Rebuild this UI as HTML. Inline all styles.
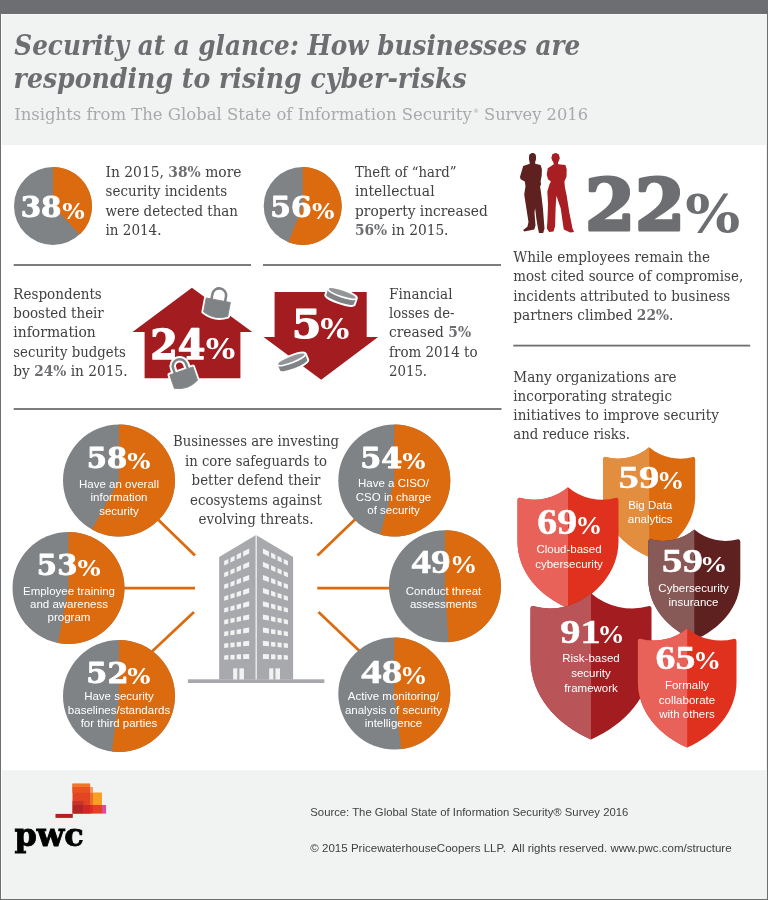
<!DOCTYPE html>
<html lang="en"><head><meta charset="utf-8"><title>Security at a glance</title>
<style>
html,body{margin:0;padding:0;background:#fff}
body{width:768px;height:900px;overflow:hidden}
svg{display:block}
.serif{font-family:'DejaVu Serif','Liberation Serif',serif}
.sans{font-family:'Liberation Sans','DejaVu Sans',sans-serif}
.lserif{font-family:'Liberation Serif','DejaVu Serif',serif}
text{white-space:pre}
</style></head><body>
<svg width="768" height="900" viewBox="0 0 768 900">
<rect width="768" height="900" fill="#6d6e71"/>
<rect x="1" y="14" width="765.9" height="884.9" fill="#fff"/>
<rect x="2" y="14.6" width="764" height="130.4" fill="#f1f2f2"/>
<rect x="2" y="770.2" width="764" height="127.7" fill="#f1f2f2"/>
<text x="14.3" y="54.5" font-size="27.5" fill="#6d6e71" font-weight="bold" font-style="italic" textLength="566.0" lengthAdjust="spacingAndGlyphs" class="serif">Security at a glance: How businesses are</text>
<text x="13.6" y="87.5" font-size="27.5" fill="#6d6e71" font-weight="bold" font-style="italic" textLength="453.0" lengthAdjust="spacingAndGlyphs" class="serif">responding to rising cyber-risks</text>
<text x="14.2" y="120" font-size="17.1" fill="#a7a9ac" class="serif"><tspan textLength="457.5" lengthAdjust="spacingAndGlyphs">Insights from The Global State of Information Security</tspan><tspan x="473" dy="-7" font-size="6">®</tspan><tspan x="484" dy="7" textLength="104" lengthAdjust="spacingAndGlyphs">Survey 2016</tspan></text>
<rect x="13.7" y="264.1" width="237.3" height="1.8" fill="#6d6e71"/>
<rect x="263" y="264.1" width="238" height="1.8" fill="#6d6e71"/>
<rect x="13.7" y="408.1" width="487.8" height="1.8" fill="#6d6e71"/>
<rect x="513.3" y="344.70000000000005" width="236.9000000000001" height="1.8" fill="#6d6e71"/>
<circle cx="53" cy="206" r="39" fill="#7f8386"/>
<path d="M53 206L53 167A39 39 0 0 1 79.70 234.43Z" fill="#dc6b0f"/>
<text fill="#fff" stroke="#fff" stroke-linejoin="round" font-weight="bold"><tspan class="serif" x="20.69" y="217.46" font-size="27.92" stroke-width="0.88" textLength="40.84" lengthAdjust="spacingAndGlyphs">38</tspan><tspan class="serif" x="62.18" y="218.50" font-size="21.42" stroke="none" textLength="22.49" lengthAdjust="spacingAndGlyphs">%</tspan></text>
<circle cx="302.7" cy="206" r="39" fill="#7f8386"/>
<path d="M302.7 206L302.7 167A39 39 0 1 1 288.34 242.26Z" fill="#dc6b0f"/>
<text fill="#fff" stroke="#fff" stroke-linejoin="round" font-weight="bold"><tspan class="serif" x="270.31" y="217.46" font-size="27.92" stroke-width="0.88" textLength="41.24" lengthAdjust="spacingAndGlyphs">56</tspan><tspan class="serif" x="312.14" y="218.50" font-size="21.42" stroke="none" textLength="22.44" lengthAdjust="spacingAndGlyphs">%</tspan></text>
<text x="105.5" y="176.5" font-size="14.8" fill="#414042" textLength="136.0" lengthAdjust="spacingAndGlyphs" class="serif">In 2015, <tspan font-weight="bold" fill="#6d6e71">38%</tspan> more</text>
<text x="105.5" y="196" font-size="14.8" fill="#414042" textLength="121.7" lengthAdjust="spacingAndGlyphs" class="serif">security incidents</text>
<text x="105.5" y="215.6" font-size="14.8" fill="#414042" textLength="132.5" lengthAdjust="spacingAndGlyphs" class="serif">were detected than</text>
<text x="105.5" y="235.2" font-size="14.8" fill="#414042" textLength="56.0" lengthAdjust="spacingAndGlyphs" class="serif">in 2014.</text>
<text x="355" y="176.5" font-size="14.8" fill="#414042" textLength="101.5" lengthAdjust="spacingAndGlyphs" class="serif">Theft of “hard”</text>
<text x="355" y="196" font-size="14.8" fill="#414042" textLength="79.6" lengthAdjust="spacingAndGlyphs" class="serif">intellectual</text>
<text x="355" y="215.6" font-size="14.8" fill="#414042" textLength="132.7" lengthAdjust="spacingAndGlyphs" class="serif">property increased</text>
<text x="355" y="235.2" font-size="14.8" fill="#414042" textLength="93.5" lengthAdjust="spacingAndGlyphs" class="serif"><tspan font-weight="bold" fill="#6d6e71">56%</tspan> in 2015.</text>
<text x="13.3" y="298.7" font-size="14.8" fill="#414042" textLength="88.5" lengthAdjust="spacingAndGlyphs" class="serif">Respondents</text>
<text x="13.3" y="318" font-size="14.8" fill="#414042" textLength="90.5" lengthAdjust="spacingAndGlyphs" class="serif">boosted their</text>
<text x="13.3" y="337.4" font-size="14.8" fill="#414042" textLength="82.5" lengthAdjust="spacingAndGlyphs" class="serif">information</text>
<text x="13.3" y="356.8" font-size="14.8" fill="#414042" textLength="112.5" lengthAdjust="spacingAndGlyphs" class="serif">security budgets</text>
<text x="13.3" y="376.2" font-size="14.8" fill="#414042" textLength="114.2" lengthAdjust="spacingAndGlyphs" class="serif">by <tspan font-weight="bold" fill="#6d6e71">24%</tspan> in 2015.</text>
<text x="389" y="298.7" font-size="14.8" fill="#414042" textLength="63.5" lengthAdjust="spacingAndGlyphs" class="serif">Financial</text>
<text x="389" y="318" font-size="14.8" fill="#414042" textLength="65.5" lengthAdjust="spacingAndGlyphs" class="serif">losses de-</text>
<text x="389" y="337.4" font-size="14.8" fill="#414042" textLength="82.1" lengthAdjust="spacingAndGlyphs" class="serif">creased <tspan font-weight="bold" fill="#6d6e71">5%</tspan></text>
<text x="389" y="356.8" font-size="14.8" fill="#414042" textLength="88.5" lengthAdjust="spacingAndGlyphs" class="serif">from 2014 to</text>
<text x="389" y="376.2" font-size="14.8" fill="#414042" textLength="38.1" lengthAdjust="spacingAndGlyphs" class="serif">2015.</text>
<text x="513.3" y="262.2" font-size="14.8" fill="#414042" textLength="196.7" lengthAdjust="spacingAndGlyphs" class="serif">While employees remain the</text>
<text x="513.3" y="281.4" font-size="14.8" fill="#414042" textLength="229.9" lengthAdjust="spacingAndGlyphs" class="serif">most cited source of compromise,</text>
<text x="513.3" y="300.6" font-size="14.8" fill="#414042" textLength="217.0" lengthAdjust="spacingAndGlyphs" class="serif">incidents attributed to business</text>
<text x="513.3" y="319.8" font-size="14.8" fill="#414042" textLength="160.1" lengthAdjust="spacingAndGlyphs" class="serif">partners climbed <tspan font-weight="bold" fill="#6d6e71">22%</tspan>.</text>
<text x="513.3" y="381.9" font-size="14.8" fill="#414042" textLength="163.3" lengthAdjust="spacingAndGlyphs" class="serif">Many organizations are</text>
<text x="513.3" y="401" font-size="14.8" fill="#414042" textLength="158.7" lengthAdjust="spacingAndGlyphs" class="serif">incorporating strategic</text>
<text x="513.3" y="420.2" font-size="14.8" fill="#414042" textLength="205.5" lengthAdjust="spacingAndGlyphs" class="serif">initiatives to improve security</text>
<text x="513.3" y="439.4" font-size="14.8" fill="#414042" textLength="116.7" lengthAdjust="spacingAndGlyphs" class="serif">and reduce risks.</text>
<text x="256" y="446.2" font-size="14.8" fill="#414042" text-anchor="middle" textLength="166.0" lengthAdjust="spacingAndGlyphs" class="serif">Businesses are investing</text>
<text x="256" y="465.7" font-size="14.8" fill="#414042" text-anchor="middle" textLength="142.0" lengthAdjust="spacingAndGlyphs" class="serif">in core safeguards to</text>
<text x="256" y="485" font-size="14.8" fill="#414042" text-anchor="middle" textLength="128.8" lengthAdjust="spacingAndGlyphs" class="serif">better defend their</text>
<text x="256" y="504.5" font-size="14.8" fill="#414042" text-anchor="middle" textLength="132.0" lengthAdjust="spacingAndGlyphs" class="serif">ecosystems against</text>
<text x="256" y="523.8" font-size="14.8" fill="#414042" text-anchor="middle" textLength="115.0" lengthAdjust="spacingAndGlyphs" class="serif">evolving threats.</text>
<path d="M191.9 287.7L252.3 331.9H240.4V378.3H144.6V331.9H132.5Z" fill="#a21c20"/>
<text fill="#fff" stroke="#fff" stroke-linejoin="round" font-weight="bold"><tspan class="serif" x="150.19" y="358.86" font-size="41.65" stroke-width="1.29" textLength="55.30" lengthAdjust="spacingAndGlyphs">24</tspan><tspan class="serif" x="205.86" y="359.10" font-size="28.42" stroke="none" textLength="29.50" lengthAdjust="spacingAndGlyphs">%</tspan></text>
<path d="M274.6 291.9H366.7V337.1H378.1L321.2 379.8L263.5 337.1H274.6Z" fill="#a21c20"/>
<text fill="#fff" stroke="#fff" stroke-linejoin="round" font-weight="bold"><tspan class="serif" x="291.70" y="337.77" font-size="38.23" stroke-width="1.18" textLength="29.63" lengthAdjust="spacingAndGlyphs">5</tspan><tspan class="serif" x="320.17" y="338.70" font-size="28.03" stroke="none" textLength="29.08" lengthAdjust="spacingAndGlyphs">%</tspan></text>
<g transform="translate(218.3 300.2) rotate(10.7)"><path d="M-6.9 1V-5A6.9 6.9 0 0 1 6.9 -5V1" fill="none" stroke="#fff" stroke-width="6.6"/><path d="M-12.3 0H12.3L12.3 14.2Q0 20.6 -12.3 14.2Z" fill="#fff" stroke="#fff" stroke-width="4.4" stroke-linejoin="round"/><path d="M-6.9 1V-5A6.9 6.9 0 0 1 6.9 -5V1" fill="none" stroke="#7f8386" stroke-width="2.5"/><path d="M-12.3 0H12.3L12.3 14.2Q0 20.6 -12.3 14.2Z" fill="#7f8386" stroke="#7f8386" stroke-width="0.8" stroke-linejoin="round"/></g>
<g transform="translate(181.3 370.9) rotate(-19.1)"><path d="M-6.9 1V-5A6.9 6.9 0 0 1 6.9 -5V1" fill="none" stroke="#fff" stroke-width="6.6"/><path d="M-12.3 0H12.3L12.3 14.2Q0 20.6 -12.3 14.2Z" fill="#fff" stroke="#fff" stroke-width="4.4" stroke-linejoin="round"/><path d="M-6.9 1V-5A6.9 6.9 0 0 1 6.9 -5V1" fill="none" stroke="#7f8386" stroke-width="2.5"/><path d="M-12.3 0H12.3L12.3 14.2Q0 20.6 -12.3 14.2Z" fill="#7f8386" stroke="#7f8386" stroke-width="0.8" stroke-linejoin="round"/></g>
<g transform="translate(342.1 293.5) rotate(18.8)"><path d="M-14.6 0A14.6 2.9 0 0 1 14.6 0L14.6 6.3A14.6 2.9 0 0 1 -14.6 6.3Z" fill="#fff" stroke="#fff" stroke-width="3.8" stroke-linejoin="round"/><path d="M-14.6 1.3A14.6 2.9 0 0 0 14.6 1.3L14.6 6.3A14.6 2.9 0 0 1 -14.6 6.3Z" fill="#7f8386"/><ellipse cx="0" cy="-0.2" rx="14.2" ry="2.7" fill="#939598"/></g>
<g transform="translate(291.4 359.4) rotate(-21.3)"><path d="M-14.6 0A14.6 2.9 0 0 1 14.6 0L14.6 6.3A14.6 2.9 0 0 1 -14.6 6.3Z" fill="#fff" stroke="#fff" stroke-width="3.8" stroke-linejoin="round"/><path d="M-14.6 1.3A14.6 2.9 0 0 0 14.6 1.3L14.6 6.3A14.6 2.9 0 0 1 -14.6 6.3Z" fill="#7f8386"/><ellipse cx="0" cy="-0.2" rx="14.2" ry="2.7" fill="#939598"/></g>
<polygon points="532.4,152.9 535.3,154.0 536.1,157.7 535.1,162.4 535.3,163.8 540.6,165.1 541.9,169.3 541.7,175.6 540.6,181.4 541.1,184.3 540.1,186.4 541.3,194.6 542.9,208.3 544.5,228.4 543.2,233.1 539.0,233.1 538.0,228.4 536.4,218.9 535.1,208.3 534.5,212.5 535.5,225.2 534.3,229.4 524.2,231.5 523.2,230.0 527.4,226.8 528.5,222.0 526.7,210.4 524.2,194.6 525.5,186.2 524.8,181.4 520.6,179.3 520.0,176.7 523.2,166.1 529.8,163.8 529.0,158.7 529.5,154.5" fill="#5f2120"/><ellipse cx="532.5" cy="157.8" rx="3.5" ry="4.8" fill="#5f2120"/>
<polygon points="555.4,153.2 558.5,154.3 559.6,158.2 558.0,162.4 558.2,164.2 565.4,165.1 566.7,169.3 566.5,176.7 564.4,181.4 564.9,187.2 566.7,195.7 569.3,212.5 572.5,228.4 574.1,232.1 570.2,232.6 563.8,229.4 562.8,223.1 560.7,208.3 556.4,195.7 555.6,208.3 555.1,226.3 553.5,231.5 549.1,232.1 546.9,228.4 547.5,218.9 548.0,204.1 547.3,191.4 549.6,184.1 550.9,181.4 548.0,179.3 546.7,174.6 547.8,168.2 553.8,164.2 553.3,161.9 551.5,158.2 552.2,154.5" fill="#a81e22"/><ellipse cx="555.6" cy="157.9" rx="3.9" ry="4.7" fill="#a81e22"/>
<text fill="#6d6e71" stroke="#6d6e71" stroke-linejoin="round" font-weight="bold"><tspan class="serif" x="584.91" y="230.07" font-size="70.79" stroke-width="3.06" textLength="100.23" lengthAdjust="spacingAndGlyphs">22</tspan><tspan class="serif" x="685.32" y="231.56" font-size="52.35" stroke="none" textLength="55.00" lengthAdjust="spacingAndGlyphs">%</tspan></text>
<line x1="158" y1="519.5" x2="195" y2="555.5" stroke="#dc6b0f" stroke-width="2.7"/>
<line x1="120" y1="588.2" x2="195" y2="588.2" stroke="#dc6b0f" stroke-width="2.7"/>
<line x1="194" y1="612" x2="152" y2="651.5" stroke="#dc6b0f" stroke-width="2.7"/>
<line x1="355.5" y1="519" x2="317.5" y2="555.5" stroke="#dc6b0f" stroke-width="2.7"/>
<line x1="317.3" y1="588.2" x2="392" y2="588.2" stroke="#dc6b0f" stroke-width="2.7"/>
<line x1="318.5" y1="612" x2="360" y2="651.5" stroke="#dc6b0f" stroke-width="2.7"/>
<polygon points="256.04,535.00 293.12,557.08 293.12,679.38 219.17,679.38 219.17,557.08" fill="#a7a9ac"/>
<rect x="187.9" y="679.3" width="136.5" height="3.7" fill="#a7a9ac"/>
<polygon points="224.17,561.04 228.33,558.96 228.33,563.44 224.17,565.42" fill="#f1f2f2"/>
<polygon points="287.92,561.04 283.75,558.96 283.75,563.44 287.92,565.42" fill="#f1f2f2"/>
<polygon points="230.42,557.92 234.58,555.83 234.58,560.47 230.42,562.45" fill="#f1f2f2"/>
<polygon points="281.67,557.92 277.50,555.83 277.50,560.47 281.67,562.45" fill="#f1f2f2"/>
<polygon points="236.67,554.79 241.04,552.60 241.04,557.40 236.67,559.48" fill="#f1f2f2"/>
<polygon points="275.42,554.79 271.04,552.60 271.04,557.40 275.42,559.48" fill="#f1f2f2"/>
<polygon points="243.12,551.56 249.17,548.54 249.17,553.54 243.12,556.41" fill="#f1f2f2"/>
<polygon points="268.96,551.56 262.92,548.54 262.92,553.54 268.96,556.41" fill="#f1f2f2"/>
<polygon points="224.17,572.83 228.33,570.98 228.33,575.46 224.17,577.21" fill="#f1f2f2"/>
<polygon points="287.92,572.83 283.75,570.98 283.75,575.46 287.92,577.21" fill="#f1f2f2"/>
<polygon points="230.42,570.05 234.58,568.20 234.58,572.83 230.42,574.58" fill="#f1f2f2"/>
<polygon points="281.67,570.05 277.50,568.20 277.50,572.83 281.67,574.58" fill="#f1f2f2"/>
<polygon points="236.67,567.27 241.04,565.32 241.04,570.12 236.67,571.96" fill="#f1f2f2"/>
<polygon points="275.42,567.27 271.04,565.32 271.04,570.12 275.42,571.96" fill="#f1f2f2"/>
<polygon points="243.12,564.40 249.17,561.71 249.17,566.71 243.12,569.25" fill="#f1f2f2"/>
<polygon points="268.96,564.40 262.92,561.71 262.92,566.71 268.96,569.25" fill="#f1f2f2"/>
<polygon points="224.17,584.62 228.33,583.00 228.33,587.48 224.17,589.00" fill="#f1f2f2"/>
<polygon points="287.92,584.62 283.75,583.00 283.75,587.48 287.92,589.00" fill="#f1f2f2"/>
<polygon points="230.42,582.19 234.58,580.56 234.58,585.20 230.42,586.72" fill="#f1f2f2"/>
<polygon points="281.67,582.19 277.50,580.56 277.50,585.20 281.67,586.72" fill="#f1f2f2"/>
<polygon points="236.67,579.75 241.04,578.04 241.04,582.84 236.67,584.44" fill="#f1f2f2"/>
<polygon points="275.42,579.75 271.04,578.04 271.04,582.84 275.42,584.44" fill="#f1f2f2"/>
<polygon points="243.12,577.23 249.17,574.88 249.17,579.88 243.12,582.08" fill="#f1f2f2"/>
<polygon points="268.96,577.23 262.92,574.88 262.92,579.88 268.96,582.08" fill="#f1f2f2"/>
<polygon points="224.17,596.42 228.33,595.02 228.33,599.50 224.17,600.79" fill="#f1f2f2"/>
<polygon points="287.92,596.42 283.75,595.02 283.75,599.50 287.92,600.79" fill="#f1f2f2"/>
<polygon points="230.42,594.32 234.58,592.93 234.58,597.56 230.42,598.85" fill="#f1f2f2"/>
<polygon points="281.67,594.32 277.50,592.93 277.50,597.56 281.67,598.85" fill="#f1f2f2"/>
<polygon points="236.67,592.23 241.04,590.76 241.04,595.56 236.67,596.92" fill="#f1f2f2"/>
<polygon points="275.42,592.23 271.04,590.76 271.04,595.56 275.42,596.92" fill="#f1f2f2"/>
<polygon points="243.12,590.07 249.17,588.04 249.17,593.04 243.12,594.91" fill="#f1f2f2"/>
<polygon points="268.96,590.07 262.92,588.04 262.92,593.04 268.96,594.91" fill="#f1f2f2"/>
<polygon points="224.17,608.21 228.33,607.04 228.33,611.52 224.17,612.58" fill="#f1f2f2"/>
<polygon points="287.92,608.21 283.75,607.04 283.75,611.52 287.92,612.58" fill="#f1f2f2"/>
<polygon points="230.42,606.46 234.58,605.29 234.58,609.93 230.42,610.99" fill="#f1f2f2"/>
<polygon points="281.67,606.46 277.50,605.29 277.50,609.93 281.67,610.99" fill="#f1f2f2"/>
<polygon points="236.67,604.71 241.04,603.48 241.04,608.28 236.67,609.40" fill="#f1f2f2"/>
<polygon points="275.42,604.71 271.04,603.48 271.04,608.28 275.42,609.40" fill="#f1f2f2"/>
<polygon points="243.12,602.90 249.17,601.21 249.17,606.21 243.12,607.75" fill="#f1f2f2"/>
<polygon points="268.96,602.90 262.92,601.21 262.92,606.21 268.96,607.75" fill="#f1f2f2"/>
<polygon points="224.17,620.00 228.33,619.06 228.33,623.54 224.17,624.38" fill="#f1f2f2"/>
<polygon points="287.92,620.00 283.75,619.06 283.75,623.54 287.92,624.38" fill="#f1f2f2"/>
<polygon points="230.42,618.59 234.58,617.66 234.58,622.29 230.42,623.12" fill="#f1f2f2"/>
<polygon points="281.67,618.59 277.50,617.66 277.50,622.29 281.67,623.12" fill="#f1f2f2"/>
<polygon points="236.67,617.19 241.04,616.20 241.04,621.00 236.67,621.88" fill="#f1f2f2"/>
<polygon points="275.42,617.19 271.04,616.20 271.04,621.00 275.42,621.88" fill="#f1f2f2"/>
<polygon points="243.12,615.73 249.17,614.38 249.17,619.38 243.12,620.58" fill="#f1f2f2"/>
<polygon points="268.96,615.73 262.92,614.38 262.92,619.38 268.96,620.58" fill="#f1f2f2"/>
<polygon points="224.17,631.79 228.33,631.08 228.33,635.56 224.17,636.17" fill="#f1f2f2"/>
<polygon points="287.92,631.79 283.75,631.08 283.75,635.56 287.92,636.17" fill="#f1f2f2"/>
<polygon points="230.42,630.73 234.58,630.02 234.58,634.66 230.42,635.26" fill="#f1f2f2"/>
<polygon points="281.67,630.73 277.50,630.02 277.50,634.66 281.67,635.26" fill="#f1f2f2"/>
<polygon points="236.67,629.67 241.04,628.92 241.04,633.72 236.67,634.35" fill="#f1f2f2"/>
<polygon points="275.42,629.67 271.04,628.92 271.04,633.72 275.42,634.35" fill="#f1f2f2"/>
<polygon points="243.12,628.57 249.17,627.54 249.17,632.54 243.12,633.42" fill="#f1f2f2"/>
<polygon points="268.96,628.57 262.92,627.54 262.92,632.54 268.96,633.42" fill="#f1f2f2"/>
<polygon points="224.17,643.58 228.33,643.10 228.33,647.58 224.17,647.96" fill="#f1f2f2"/>
<polygon points="287.92,643.58 283.75,643.10 283.75,647.58 287.92,647.96" fill="#f1f2f2"/>
<polygon points="230.42,642.86 234.58,642.39 234.58,647.02 230.42,647.40" fill="#f1f2f2"/>
<polygon points="281.67,642.86 277.50,642.39 277.50,647.02 281.67,647.40" fill="#f1f2f2"/>
<polygon points="236.67,642.15 241.04,641.64 241.04,646.44 236.67,646.83" fill="#f1f2f2"/>
<polygon points="275.42,642.15 271.04,641.64 271.04,646.44 275.42,646.83" fill="#f1f2f2"/>
<polygon points="243.12,641.40 249.17,640.71 249.17,645.71 243.12,646.25" fill="#f1f2f2"/>
<polygon points="268.96,641.40 262.92,640.71 262.92,645.71 268.96,646.25" fill="#f1f2f2"/>
<polygon points="224.17,655.38 228.33,655.12 228.33,659.60 224.17,659.75" fill="#f1f2f2"/>
<polygon points="287.92,655.38 283.75,655.12 283.75,659.60 287.92,659.75" fill="#f1f2f2"/>
<polygon points="230.42,655.00 234.58,654.75 234.58,659.39 230.42,659.53" fill="#f1f2f2"/>
<polygon points="281.67,655.00 277.50,654.75 277.50,659.39 281.67,659.53" fill="#f1f2f2"/>
<polygon points="236.67,654.62 241.04,654.36 241.04,659.16 236.67,659.31" fill="#f1f2f2"/>
<polygon points="275.42,654.62 271.04,654.36 271.04,659.16 275.42,659.31" fill="#f1f2f2"/>
<polygon points="243.12,654.24 249.17,653.88 249.17,658.88 243.12,659.09" fill="#f1f2f2"/>
<polygon points="268.96,654.24 262.92,653.88 262.92,658.88 268.96,659.09" fill="#f1f2f2"/>
<polygon points="233.12,668.33 237.29,668.33 237.29,679.38 233.12,679.38" fill="#f1f2f2"/>
<polygon points="239.38,668.33 243.96,668.33 243.96,679.38 239.38,679.38" fill="#f1f2f2"/>
<polygon points="269.17,668.33 273.33,668.33 273.33,679.38 269.17,679.38" fill="#f1f2f2"/>
<polygon points="275.42,668.33 280.00,668.33 280.00,679.38 275.42,679.38" fill="#f1f2f2"/>
<rect x="255.6" y="535.2" width="1.1" height="144.1" fill="#fff"/>
<circle cx="119" cy="480.5" r="56" fill="#7f8386"/>
<path d="M119 480.5L119 424.5A56 56 0 1 1 92.02 529.57Z" fill="#dc6b0f"/>
<text fill="#fff" stroke="#fff" stroke-linejoin="round" font-weight="bold"><tspan class="serif" x="86.87" y="468.14" font-size="28.56" stroke-width="0.90" textLength="40.44" lengthAdjust="spacingAndGlyphs">58</tspan><tspan class="serif" x="127.17" y="468.69" font-size="21.68" stroke="none" textLength="23.23" lengthAdjust="spacingAndGlyphs">%</tspan></text>
<text x="119" y="487.9" font-size="11.5" fill="#fff" text-anchor="middle" class="sans">Have an overall</text>
<text x="119" y="501.3" font-size="11.5" fill="#fff" text-anchor="middle" class="sans">information</text>
<text x="119" y="514.6" font-size="11.5" fill="#fff" text-anchor="middle" class="sans">security</text>
<circle cx="68.5" cy="588" r="56" fill="#7f8386"/>
<path d="M68.5 588L68.5 532A56 56 0 1 1 58.01 643.01Z" fill="#dc6b0f"/>
<text fill="#fff" stroke="#fff" stroke-linejoin="round" font-weight="bold"><tspan class="serif" x="36.86" y="575.14" font-size="28.56" stroke-width="0.90" textLength="40.55" lengthAdjust="spacingAndGlyphs">53</tspan><tspan class="serif" x="77.42" y="575.69" font-size="21.95" stroke="none" textLength="23.18" lengthAdjust="spacingAndGlyphs">%</tspan></text>
<text x="69" y="594.7" font-size="11.5" fill="#fff" text-anchor="middle" class="sans">Employee training</text>
<text x="69" y="608" font-size="11.5" fill="#fff" text-anchor="middle" class="sans">and awareness</text>
<text x="69" y="621.3" font-size="11.5" fill="#fff" text-anchor="middle" class="sans">program</text>
<circle cx="119" cy="696" r="56" fill="#7f8386"/>
<path d="M119 696L119 640A56 56 0 1 1 111.98 751.56Z" fill="#dc6b0f"/>
<text fill="#fff" stroke="#fff" stroke-linejoin="round" font-weight="bold"><tspan class="serif" x="86.37" y="683.14" font-size="28.56" stroke-width="0.90" textLength="42.10" lengthAdjust="spacingAndGlyphs">52</tspan><tspan class="serif" x="127.32" y="683.69" font-size="21.68" stroke="none" textLength="23.18" lengthAdjust="spacingAndGlyphs">%</tspan></text>
<text x="119" y="700.2" font-size="11.5" fill="#fff" text-anchor="middle" class="sans">Have security</text>
<text x="119" y="713.7" font-size="11.5" fill="#fff" text-anchor="middle" class="sans">baselines/standards</text>
<text x="119" y="727" font-size="11.5" fill="#fff" text-anchor="middle" class="sans">for third parties</text>
<circle cx="394.3" cy="480.5" r="56" fill="#7f8386"/>
<path d="M394.3 480.5L394.3 424.5A56 56 0 1 1 380.37 534.74Z" fill="#dc6b0f"/>
<text fill="#fff" stroke="#fff" stroke-linejoin="round" font-weight="bold"><tspan class="serif" x="360.26" y="468.15" font-size="28.30" stroke-width="0.89" textLength="42.13" lengthAdjust="spacingAndGlyphs">54</tspan><tspan class="serif" x="402.17" y="468.69" font-size="21.68" stroke="none" textLength="23.23" lengthAdjust="spacingAndGlyphs">%</tspan></text>
<text x="393.5" y="487.3" font-size="11.5" fill="#fff" text-anchor="middle" class="sans">Have a CISO/</text>
<text x="393.5" y="500.7" font-size="11.5" fill="#fff" text-anchor="middle" class="sans">CSO in charge</text>
<text x="393.5" y="514" font-size="11.5" fill="#fff" text-anchor="middle" class="sans">of security</text>
<circle cx="445" cy="586.3" r="56" fill="#7f8386"/>
<path d="M445 586.3L445 530.3A56 56 0 0 1 448.52 642.19Z" fill="#dc6b0f"/>
<text fill="#fff" stroke="#fff" stroke-linejoin="round" font-weight="bold"><tspan class="lserif" x="411.40" y="573.44" font-size="33.55" stroke-width="0.46" textLength="38.98" lengthAdjust="spacingAndGlyphs">49</tspan><tspan class="lserif" x="449.95" y="572.88" font-size="24.18" stroke="none" textLength="27.31" lengthAdjust="spacingAndGlyphs">%</tspan></text>
<text x="443.5" y="594.7" font-size="11.5" fill="#fff" text-anchor="middle" class="sans">Conduct threat</text>
<text x="443.5" y="608" font-size="11.5" fill="#fff" text-anchor="middle" class="sans">assessments</text>
<circle cx="394.3" cy="693.6" r="56" fill="#7f8386"/>
<path d="M394.3 693.6L394.3 637.6A56 56 0 0 1 401.32 749.16Z" fill="#dc6b0f"/>
<text fill="#fff" stroke="#fff" stroke-linejoin="round" font-weight="bold"><tspan class="lserif" x="361.36" y="683.45" font-size="32.82" stroke-width="0.45" textLength="40.97" lengthAdjust="spacingAndGlyphs">48</tspan><tspan class="lserif" x="399.94" y="683.68" font-size="24.18" stroke="none" textLength="27.44" lengthAdjust="spacingAndGlyphs">%</tspan></text>
<text x="393.5" y="700.2" font-size="11.5" fill="#fff" text-anchor="middle" class="sans">Active monitoring/</text>
<text x="393.5" y="713.7" font-size="11.5" fill="#fff" text-anchor="middle" class="sans">analysis of security</text>
<text x="393.5" y="727" font-size="11.5" fill="#fff" text-anchor="middle" class="sans">intelligence</text>
<path d="M649.2 447.3A48.3 48.3 0 0 1 605.4 456.9Q603.2 456.6 603.2 459.4L603.2 496.6C603.2 524.0 623.4 545.9 649.2 556.9C675.0 545.9 695.2 524.0 695.2 496.6L695.2 459.4Q695.2 456.6 693.0 456.9A48.3 48.3 0 0 1 649.2 447.3Z" fill="#dc6b0f"/><path d="M649.2 447.3A48.3 48.3 0 0 1 605.4 456.9Q603.2 456.6 603.2 459.4L603.2 496.6C603.2 524.0 623.4 545.9 649.2 556.9Z" fill="#e38e3f"/>
<text fill="#fff" stroke="#fff" stroke-linejoin="round" font-weight="bold"><tspan class="lserif" x="618.60" y="488.46" font-size="32.53" stroke-width="0.45" textLength="40.65" lengthAdjust="spacingAndGlyphs">59</tspan><tspan class="lserif" x="657.01" y="488.68" font-size="24.18" stroke="none" textLength="27.25" lengthAdjust="spacingAndGlyphs">%</tspan></text>
<text x="650.2" y="508.7" font-size="11.5" fill="#fff" text-anchor="middle" class="sans">Big Data</text>
<text x="650.2" y="522.7" font-size="11.5" fill="#fff" text-anchor="middle" class="sans">analytics</text>
<path d="M568.0 487.2A53.0 53.0 0 0 1 519.7 497.8Q517.5 497.5 517.5 500.3L517.5 541.6C517.5 571.9 539.7 596.1 568.0 608.2C596.3 596.1 618.5 571.9 618.5 541.6L618.5 500.3Q618.5 497.5 616.3 497.8A53.0 53.0 0 0 1 568.0 487.2Z" fill="#e0301e"/><path d="M568.0 487.2A53.0 53.0 0 0 1 519.7 497.8Q517.5 497.5 517.5 500.3L517.5 541.6C517.5 571.9 539.7 596.1 568.0 608.2Z" fill="#e8625a"/>
<path d="M591.0 593.3A63.5 63.5 0 0 1 532.7 606.1Q530.5 605.8 530.5 608.6L530.5 659.1C530.5 695.6 557.1 724.9 591.0 739.5C624.9 724.9 651.5 695.6 651.5 659.1L651.5 608.6Q651.5 605.8 649.3 606.1A63.5 63.5 0 0 1 591.0 593.3Z" fill="#a21c20"/><path d="M591.0 593.3A63.5 63.5 0 0 1 532.7 606.1Q530.5 605.8 530.5 608.6L530.5 659.1C530.5 695.6 557.1 724.9 591.0 739.5Z" fill="#b95559"/>
<text fill="#fff" stroke="#fff" stroke-linejoin="round" font-weight="bold"><tspan class="lserif" x="537.38" y="533.92" font-size="35.01" stroke-width="0.48" textLength="39.82" lengthAdjust="spacingAndGlyphs">69</tspan><tspan class="lserif" x="575.46" y="533.68" font-size="24.18" stroke="none" textLength="26.75" lengthAdjust="spacingAndGlyphs">%</tspan></text>
<text x="569" y="553.4" font-size="11.5" fill="#fff" text-anchor="middle" class="sans">Cloud-based</text>
<text x="569" y="567.5" font-size="11.5" fill="#fff" text-anchor="middle" class="sans">cybersecurity</text>
<text fill="#fff" stroke="#fff" stroke-linejoin="round" font-weight="bold"><tspan class="lserif" x="560.23" y="643.44" font-size="33.40" stroke-width="0.46" textLength="40.33" lengthAdjust="spacingAndGlyphs">91</tspan><tspan class="lserif" x="597.43" y="643.08" font-size="24.18" stroke="none" textLength="27.00" lengthAdjust="spacingAndGlyphs">%</tspan></text>
<text x="591" y="662.2" font-size="11.5" fill="#fff" text-anchor="middle" class="sans">Risk-based</text>
<text x="591" y="676.9" font-size="11.5" fill="#fff" text-anchor="middle" class="sans">security</text>
<text x="591" y="691.6" font-size="11.5" fill="#fff" text-anchor="middle" class="sans">framework</text>
<path d="M694.3 529.6A48.3 48.3 0 0 1 650.5 539.2Q648.3 538.9 648.3 541.7L648.3 579.3C648.3 607.0 668.5 629.1 694.3 640.1C720.1 629.1 740.3 607.0 740.3 579.3L740.3 541.7Q740.3 538.9 738.1 539.2A48.3 48.3 0 0 1 694.3 529.6Z" fill="#5f2120"/><path d="M694.3 529.6A48.3 48.3 0 0 1 650.5 539.2Q648.3 538.9 648.3 541.7L648.3 579.3C648.3 607.0 668.5 629.1 694.3 640.1Z" fill="#875a58"/>
<text fill="#fff" stroke="#fff" stroke-linejoin="round" font-weight="bold"><tspan class="lserif" x="662.09" y="571.95" font-size="32.82" stroke-width="0.45" textLength="40.75" lengthAdjust="spacingAndGlyphs">59</tspan><tspan class="lserif" x="699.95" y="571.59" font-size="23.74" stroke="none" textLength="27.31" lengthAdjust="spacingAndGlyphs">%</tspan></text>
<text x="693.5" y="592" font-size="11.5" fill="#fff" text-anchor="middle" class="sans">Cybersecurity</text>
<text x="693.5" y="606" font-size="11.5" fill="#fff" text-anchor="middle" class="sans">insurance</text>
<path d="M687.2 628.4A51.8 51.8 0 0 1 640.1 638.7Q637.9 638.4 637.9 641.2L637.9 681.9C637.9 711.7 659.6 735.5 687.2 747.4C714.8 735.5 736.5 711.7 736.5 681.9L736.5 641.2Q736.5 638.4 734.3 638.7A51.8 51.8 0 0 1 687.2 628.4Z" fill="#e0301e"/><path d="M687.2 628.4A51.8 51.8 0 0 1 640.1 638.7Q637.9 638.4 637.9 641.2L637.9 681.9C637.9 711.7 659.6 735.5 687.2 747.4Z" fill="#e8625a"/>
<text fill="#fff" stroke="#fff" stroke-linejoin="round" font-weight="bold"><tspan class="lserif" x="655.57" y="669.03" font-size="34.28" stroke-width="0.47" textLength="39.85" lengthAdjust="spacingAndGlyphs">65</tspan><tspan class="lserif" x="693.16" y="669.28" font-size="24.18" stroke="none" textLength="27.75" lengthAdjust="spacingAndGlyphs">%</tspan></text>
<text x="687" y="689.4" font-size="11.5" fill="#fff" text-anchor="middle" class="sans">Formally</text>
<text x="687" y="704" font-size="11.5" fill="#fff" text-anchor="middle" class="sans">collaborate</text>
<text x="687" y="718.4" font-size="11.5" fill="#fff" text-anchor="middle" class="sans">with others</text>
<rect x="72.5" y="783.7" width="17.6" height="29.9" fill="#e44424"/>
<rect x="72.5" y="783.7" width="17.6" height="3.4" fill="#f0762b"/>
<rect x="72.5" y="787.0" width="17.6" height="5.8" fill="#e8531f"/>
<rect x="72.5" y="801.0" width="11.1" height="4.2" fill="#c93428"/>
<rect x="72.5" y="805.0" width="11.1" height="8.6" fill="#b52527"/>
<rect x="83.6" y="805.0" width="6.6" height="8.6" fill="#cf2826"/>
<rect x="90.0" y="787.0" width="3.0" height="5.6" fill="#f29a6a"/>
<rect x="90.0" y="792.5" width="3.1" height="12.6" fill="#ee6f25"/>
<rect x="90.0" y="805.0" width="3.1" height="8.6" fill="#de2c27"/>
<rect x="93.0" y="792.5" width="9.0" height="12.6" fill="#f7a023"/>
<rect x="93.0" y="805.0" width="9.0" height="8.6" fill="#e53f25"/>
<rect x="102.0" y="805.0" width="4.1" height="8.6" fill="#dc4a9c"/>
<rect x="55.5" y="813.9" width="17.3" height="4.0" fill="#b11f1f"/>
<text x="14.4" y="846.2" font-size="32.5" fill="#000" font-weight="bold" textLength="69.5" lengthAdjust="spacingAndGlyphs" class="serif" stroke="#000" stroke-width="0.9">pwc</text>
<text x="310.3" y="815.8" font-size="11.6" fill="#414042" textLength="318.0" lengthAdjust="spacingAndGlyphs" class="sans">Source: The Global State of Information Security® Survey 2016</text>
<text x="310.3" y="852.3" font-size="11.6" fill="#414042" textLength="421.3" lengthAdjust="spacingAndGlyphs" class="sans">© 2015 PricewaterhouseCoopers LLP.  All rights reserved. www.pwc.com/structure</text>
</svg></body></html>
